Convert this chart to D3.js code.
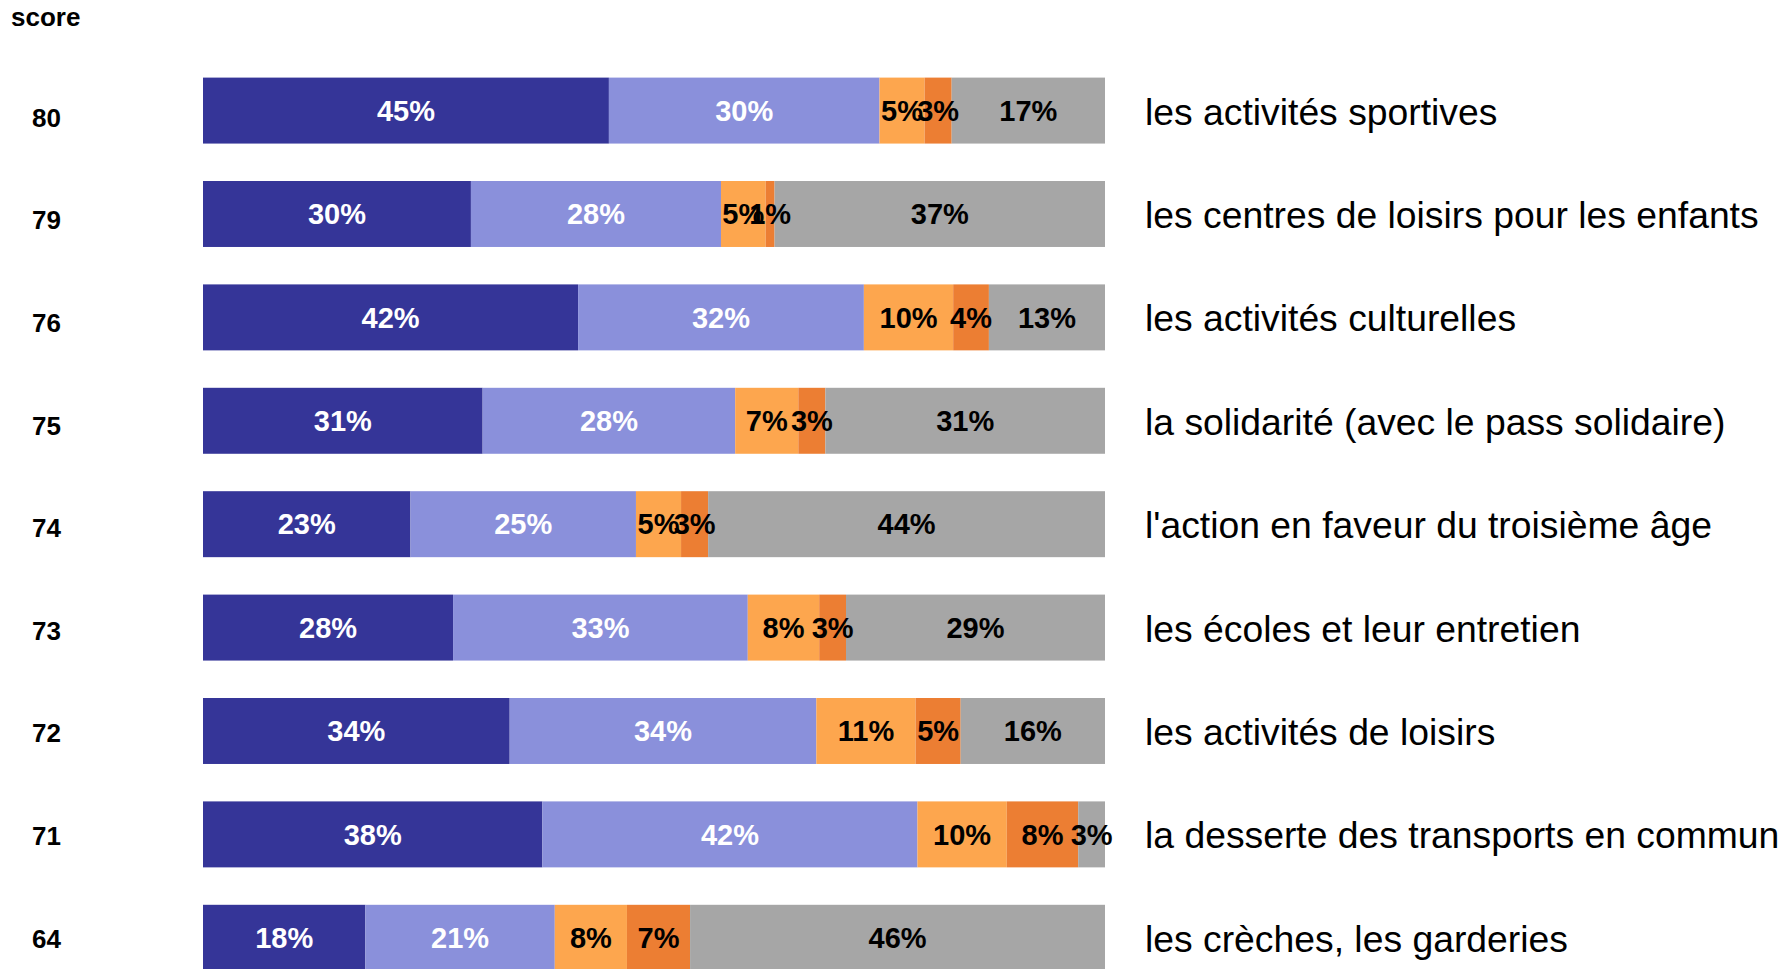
<!DOCTYPE html>
<html>
<head>
<meta charset="utf-8">
<script src="https://cdn.jsdelivr.net/npm/d3@7"></script>
<style>
  html, body { margin: 0; padding: 0; background: #fff; overflow: hidden; }
  svg { display: block; }
  text { font-family: "Liberation Sans", Arial, sans-serif; }
</style>
</head>
<body>
<svg id="chart" width="1790" height="969"></svg>
<script>
const categories = [
  "les activités sportives",
  "les centres de loisirs pour les enfants",
  "les activités culturelles",
  "la solidarité (avec le pass solidaire)",
  "l'action en faveur du troisième âge",
  "les écoles et leur entretien",
  "les activités de loisirs",
  "la desserte des transports en commun",
  "les crèches, les garderies"
];
const scores = [80, 79, 76, 75, 74, 73, 72, 71, 64];
const series1 = [45, 30, 42, 31, 23, 28, 34, 38, 18];
const series2 = [30, 28, 32, 28, 25, 33, 34, 42, 21];
const series3 = [5, 5, 10, 7, 5, 8, 11, 10, 8];
const series4 = [3, 1, 4, 3, 3, 3, 5, 8, 7];
const series5 = [17, 37, 13, 31, 44, 29, 16, 3, 46];
const seriesColors = ["#353598", "#8A90DB", "#FDA64E", "#EC7E33", "#A6A6A6"];
const labelColors = ["#ffffff", "#ffffff", "#000000", "#000000", "#000000"];
const scoreTitle = "score";

const allSeries = [series1, series2, series3, series4, series5];

const svg = d3.select("#chart");

const x = d3.scaleLinear().domain([0, 1]).range([203, 1105]);
const y = d3.scaleBand()
  .domain(categories)
  .range([77.6, 77.6 + 103.4 * (9 - 0.362)])
  .paddingInner(0.362)
  .paddingOuter(0);
// score column sits on its own slightly tighter scale
const yScore = d3.scalePoint()
  .domain(categories)
  .range([117.6, 938.4]);

const rows = categories.map((c, i) => {
  const vals = allSeries.map(s => s[i]);
  const total = d3.sum(vals);
  let acc = 0;
  const segs = vals.map((v, k) => {
    const s = { cat: c, k, v, x0: acc / total, x1: (acc + v) / total };
    acc += v;
    return s;
  });
  return { cat: c, score: scores[i], segs };
});

const g = svg.append("g");

const row = g.selectAll("g.row").data(rows).join("g").attr("class", "row");

row.selectAll("rect").data(d => d.segs).join("rect")
  .attr("x", d => x(d.x0))
  .attr("y", d => y(d.cat))
  .attr("width", d => x(d.x1) - x(d.x0))
  .attr("height", y.bandwidth())
  .attr("fill", d => seriesColors[d.k]);

row.selectAll("text.val").data(d => d.segs).join("text")
  .attr("class", "val")
  .attr("x", d => (x(d.x0) + x(d.x1)) / 2)
  .attr("y", d => y(d.cat) + y.bandwidth() / 2)
  .attr("dy", "0.35em")
  .attr("text-anchor", "middle")
  .attr("font-weight", "bold")
  .attr("font-size", 29)
  .attr("fill", d => labelColors[d.k])
  .text(d => d.v + "%");

row.append("text")
  .attr("x", 32)
  .attr("y", d => yScore(d.cat))
  .attr("dy", "0.35em")
  .attr("font-weight", "bold")
  .attr("font-size", 26)
  .attr("fill", "#000")
  .text(d => d.score);

row.append("text")
  .attr("x", 1145)
  .attr("y", d => y(d.cat) + y.bandwidth() / 2 + 1)
  .attr("dy", "0.35em")
  .attr("font-size", 37.3)
  .attr("fill", "#000")
  .text(d => d.cat);

svg.append("text")
  .attr("x", 11)
  .attr("y", 17)
  .attr("dy", "0.35em")
  .attr("font-weight", "bold")
  .attr("font-size", 26)
  .attr("fill", "#000")
  .text(scoreTitle);
</script>
</body>
</html>
